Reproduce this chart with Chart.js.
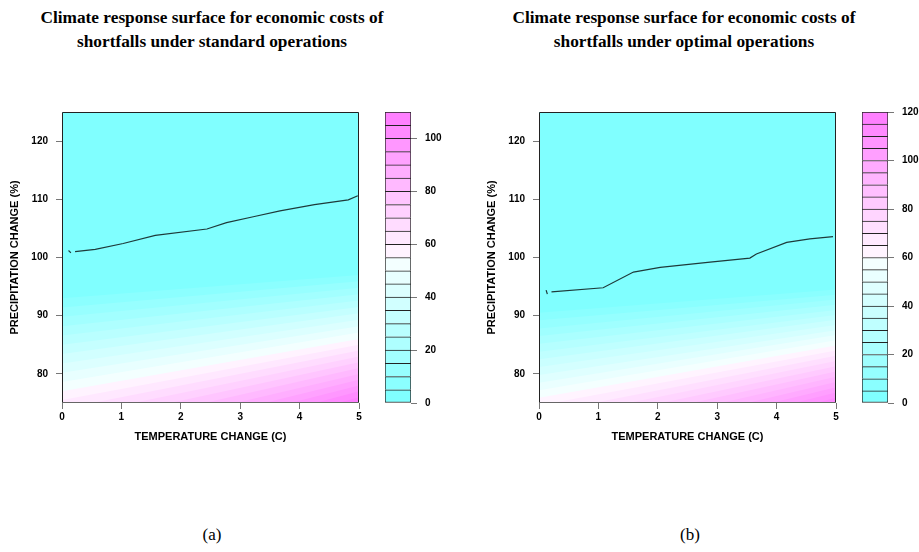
<!DOCTYPE html>
<html>
<head>
<meta charset="utf-8">
<script src="https://cdn.jsdelivr.net/npm/chart.js@4.4.0/dist/chart.umd.min.js"></script>
<style>
  html, body { margin: 0; padding: 0; background: #fff; overflow: hidden; }
  #page { position: relative; width: 919px; height: 552px; }
  canvas { position: absolute; top: 0; }
  .title {
    position: absolute; top: 6px; width: 500px; text-align: center;
    font: bold 17.3px 'Liberation Serif', serif; line-height: 24px; color: #000;
  }
  .caption {
    position: absolute; top: 524px; width: 100px; text-align: center;
    font: 17px 'Liberation Serif', serif; line-height: 22px; color: #000;
  }
</style>
</head>
<body>
<div id="page">
  <div class="title" style="left:-38px">Climate response surface for economic costs of<br>shortfalls under standard operations</div>
  <div class="title" style="left:434px">Climate response surface for economic costs of<br>shortfalls under optimal operations</div>
  <canvas id="mainA" style="left:0px" width="424" height="460"></canvas>
  <canvas id="keyA" style="left:375px" width="85" height="440"></canvas>
  <canvas id="mainB" style="left:477px" width="416" height="460"></canvas>
  <canvas id="keyB" style="left:857px" width="62" height="440"></canvas>
  <div class="caption" style="left:162px">(a)</div>
  <div class="caption" style="left:640px">(b)</div>
</div>
<script>
// axes
const tempEnds = [0, 5];
const xTicks = [0, 1, 2, 3, 4, 5];
const yTicks = [80, 90, 100, 110, 120];

// (a) standard operations: precipitation where cost reaches each level, at T=0 and T=5
const levelsA = [0, 5, 10, 15, 20, 25, 30, 35, 40, 45, 50, 55, 60, 65, 70, 75, 80, 85, 90, 95, 100, 105];
const precipT0A = [125, 93.0, 91.4, 89.8, 88.2, 86.6, 85.0, 83.4, 81.8, 80.2, 78.6, 77.0, 75.5, 74.0, 72.5, 71.0, 69.5, 68.0, 66.5, 65.0, 63.5, 62.0];
const precipT5A = [125, 97.0, 95.9, 94.8, 93.7, 92.6, 91.5, 90.4, 89.3, 88.2, 87.1, 86.0, 85.0, 84.0, 83.0, 82.0, 81.0, 80.0, 79.0, 78.0, 77.0, 76.0];
const keyTicksA = [0, 20, 40, 60, 80, 100];
const contourTempA = [0.22, 0.56, 1.03, 1.57, 2.44, 2.77, 3.22, 3.67, 4.25, 4.82, 4.98];
const contourPrecipA = [101.0, 101.4, 102.4, 103.8, 104.9, 106.0, 107.0, 108.0, 109.1, 109.9, 110.6];
const stubTempA = [0.11, 0.15];
const stubPrecipA = [101.2, 100.8];

// (b) optimal operations
const levelsB = [0, 5, 10, 15, 20, 25, 30, 35, 40, 45, 50, 55, 60, 65, 70, 75, 80, 85, 90, 95, 100, 105, 110, 115];
const precipT0B = [125, 90.5, 89.2, 87.8, 86.5, 85.2, 83.8, 82.5, 81.2, 79.8, 78.5, 77.2, 75.9, 74.6, 73.2, 71.9, 70.6, 69.3, 67.9, 66.6, 65.3, 64.0, 62.6, 61.3];
const precipT5B = [125, 94.5, 93.6, 92.8, 91.9, 91.0, 90.1, 89.3, 88.4, 87.5, 86.7, 85.8, 84.9, 84.0, 83.1, 82.2, 81.3, 80.4, 79.5, 78.6, 77.7, 76.8, 75.9, 75.3];
const keyTicksB = [0, 20, 40, 60, 80, 100, 120];
const contourTempB = [0.21, 1.08, 1.59, 2.04, 2.88, 3.55, 3.66, 4.17, 4.56, 4.95];
const contourPrecipB = [94.1, 94.8, 97.5, 98.3, 99.2, 99.9, 100.6, 102.6, 103.2, 103.6];
const stubTempB = [0.12, 0.14];
const stubPrecipB = [94.4, 93.7];

const LEVEL_STEP = 5;

// R's cm.colors(): cyan -> white -> magenta
function cmColors(n) {
  const k = Math.floor(n / 2);
  const out = [];
  for (let i = 0; i < k; i++) {
    const s = 0.5 - i * 0.5 / k;
    out.push(`rgb(${Math.round(255 * (1 - s))},255,255)`);
  }
  for (let j = 1; j <= n - k; j++) {
    const s = j * 0.5 / (n - k);
    out.push(`rgb(255,${Math.round(255 * (1 - s))},255)`);
  }
  return out;
}

const tickFont = { family: 'Liberation Sans', size: 10, weight: 'bold' };
const axisFont = { family: 'Liberation Sans', size: 11, weight: 'bold' };

// box round the plot region
const frame = {
  id: 'frame',
  afterDatasetsDraw(chart) {
    const { ctx, chartArea: a } = chart;
    ctx.save();
    ctx.lineWidth = 1;
    ctx.strokeStyle = '#222';
    ctx.beginPath();
    ctx.moveTo(a.left + 0.5, a.bottom - 0.5);
    ctx.lineTo(a.left + 0.5, a.top + 0.5);
    ctx.lineTo(a.right - 0.5, a.top + 0.5);
    ctx.lineTo(a.right - 0.5, a.bottom - 0.5);
    ctx.stroke();
    ctx.strokeStyle = '#666';
    ctx.beginPath();
    ctx.moveTo(a.left, a.bottom - 0.5);
    ctx.lineTo(a.right, a.bottom - 0.5);
    ctx.stroke();
    ctx.restore();
  }
};

function surfacePanel(id, levels, p0, p5, cT, cP, sT, sP, padRight) {
  const colors = cmColors(levels.length);
  const n = levels.length;
  const bands = levels.map((lev, i) => ({
    label: 'level ' + lev,
    data: [{ x: tempEnds[0], y: p0[i] }, { x: tempEnds[1], y: p5[i] }],
    fill: 'start',
    backgroundColor: colors[i],
    borderColor: colors[i],
    borderWidth: 0,
    pointRadius: 0,
    clip: 0,
    order: n - i + 2
  }));
  const contour = {
    label: 'contour',
    data: cT.map((t, i) => ({ x: t, y: cP[i] })),
    borderColor: '#1e3a3a',
    borderWidth: 1.2,
    pointRadius: 0,
    fill: false,
    order: 0
  };
  const stub = {
    label: 'stub',
    data: sT.map((t, i) => ({ x: t, y: sP[i] })),
    borderColor: '#1e3a3a',
    borderWidth: 1.2,
    pointRadius: 0,
    fill: false,
    order: 1
  };

  new Chart(document.getElementById(id), {
    type: 'line',
    data: { datasets: [...bands, contour, stub] },
    options: {
      responsive: false,
      animation: false,
      layout: { padding: { top: 112, right: padRight } },
      plugins: { legend: { display: false }, tooltip: { enabled: false } },
      scales: {
        x: {
          type: 'linear', min: 0, max: 5,
          afterBuildTicks: s => { s.ticks = xTicks.map(v => ({ value: v })); },
          afterFit: s => { s.height = 57; },
          grid: { drawOnChartArea: false, tickLength: 6, tickColor: '#777' },
          border: { display: false },
          ticks: { font: tickFont, color: '#000', padding: 2, maxRotation: 0 },
          title: { display: true, text: 'TEMPERATURE CHANGE (C)', color: '#000', font: axisFont, padding: { top: 0, bottom: 16 } }
        },
        y: {
          type: 'linear', min: 75, max: 125,
          afterBuildTicks: s => { s.ticks = yTicks.map(v => ({ value: v })); },
          afterFit: s => { s.width = 62; },
          grid: { drawOnChartArea: false, tickLength: 6, tickColor: '#777' },
          border: { display: false },
          ticks: { font: tickFont, color: '#000', padding: 8 },
          title: { display: true, text: 'PRECIPITATION CHANGE (%)', color: '#000', font: axisFont, padding: { top: 8, bottom: 0 } }
        }
      }
    },
    plugins: [frame]
  });
}

function keyPanel(id, levels, keyTicks, padLeft, axisWidth) {
  const colors = cmColors(levels.length);
  const top = levels[levels.length - 1] + LEVEL_STEP;
  new Chart(document.getElementById(id), {
    type: 'bar',
    data: {
      labels: [''],
      datasets: levels.map((lev, i) => ({
        data: [[lev, lev + LEVEL_STEP]],
        backgroundColor: colors[i],
        borderColor: '#222',
        borderWidth: i === 0 ? 1 : { top: 1, left: 1, right: 1, bottom: 0 },
        borderSkipped: false,
        barPercentage: 1,
        categoryPercentage: 1,
        grouped: false
      }))
    },
    options: {
      responsive: false,
      animation: false,
      layout: { padding: { top: 112, bottom: 37, left: padLeft, right: 0 } },
      plugins: { legend: { display: false }, tooltip: { enabled: false } },
      scales: {
        x: { display: false },
        y: {
          position: 'right', min: 0, max: top,
          afterBuildTicks: s => { s.ticks = keyTicks.map(v => ({ value: v })); },
          afterFit: s => { s.width = axisWidth; },
          grid: { drawOnChartArea: false, tickLength: 6, tickColor: '#777' },
          border: { display: false },
          ticks: { font: tickFont, color: '#000', padding: 8 }
        }
      }
    }
  });
}

surfacePanel('mainA', levelsA, precipT0A, precipT5A, contourTempA, contourPrecipA, stubTempA, stubPrecipA, 65);
keyPanel('keyA', levelsA, keyTicksA, 10, 49);

surfacePanel('mainB', levelsB, precipT0B, precipT5B, contourTempB, contourPrecipB, stubTempB, stubPrecipB, 57);
keyPanel('keyB', levelsB, keyTicksB, 5, 31);
</script>
</body>
</html>
